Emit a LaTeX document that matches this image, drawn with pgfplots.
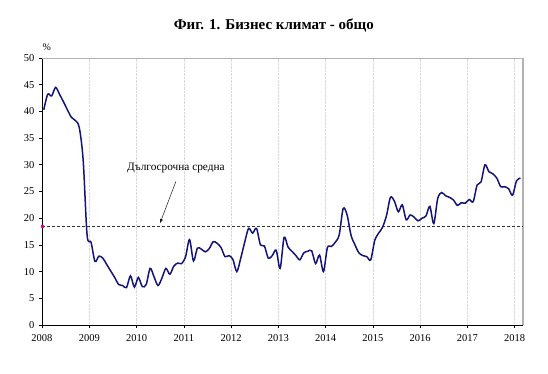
\documentclass[border=0pt]{standalone}
\usepackage{pgfplots}
\pgfplotsset{compat=1.18}
\usepackage{fontspec}
\setmainfont{Liberation Serif}
\definecolor{navyline}{RGB}{20,20,120}
\begin{document}
\begin{tikzpicture}
\begin{axis}[
  scale only axis,
  width=481pt, height=267pt,
  xmin=0, xmax=122.1, ymin=0, ymax=50,
  axis lines=left,
  axis line style={-, black, line width=0.8pt},
  xtick={0,12,24,36,48,60,72,84,96,108,120},
  xticklabels={2008,2009,2010,2011,2012,2013,2014,2015,2016,2017,2018},
  ytick={0,5,10,15,20,25,30,35,40,45,50},
  tick align=outside,
  major tick length=3pt,
  tick style={black, line width=0.6pt},
  xmajorgrids,
  grid style={densely dotted, gray!30, line width=0.5pt},
  tick label style={font=\fontsize{10.5}{12}\selectfont},
  /pgf/number format/assume math mode=true,
  xticklabel style={yshift=-3pt},
  yticklabel style={xshift=-1pt},
  clip=false,
]
\draw[gray!60, line width=0.8pt] (rel axis cs:0,1) -- (rel axis cs:1,1);
\draw[gray!60, line width=1.8pt] (rel axis cs:1,1) -- (rel axis cs:1,0);
\addplot[densely dashed, gray!40!black, line width=0.5pt] coordinates {(0,18.5) (122.1,18.5)};
\addplot[only marks, mark=square*, mark size=1.1pt, magenta] coordinates {(0,18.5)};
\addplot[navyline, line width=1.5pt, smooth, tension=0.5] table[x expr=\thisrow{k}+0.45, y=v] {
k v
0 40.3
1 43.2
2 42.9
3 44.5
4 43.2
5 41.8
6 40.3
7 38.9
8 38.3
9 37.0
10 30.9
11 16.8
12 15.5
13 11.9
14 12.9
15 12.5
16 11.3
17 10.1
18 8.9
19 7.6
20 7.4
21 7.0
22 9.2
23 7.1
24 8.9
25 7.2
26 7.6
27 10.6
28 9.0
29 7.4
30 8.8
31 10.6
32 9.5
33 11.0
34 11.6
35 11.5
36 12.8
37 16.0
38 12.0
39 14.4
40 14.2
41 13.7
42 14.3
43 15.6
44 15.3
45 14.5
46 12.8
47 13.0
48 12.3
49 10.0
50 12.5
51 15.5
52 18.1
53 17.2
54 18.1
55 15.0
56 14.8
57 12.5
58 13.0
59 14.0
60 10.6
61 16.4
62 14.6
63 13.8
64 13.0
65 12.2
66 13.5
67 13.8
68 13.9
69 11.5
70 13.1
71 10.0
72 14.5
73 14.7
74 15.5
75 16.9
76 21.8
77 20.6
78 16.8
79 15.0
80 13.5
81 13.0
82 12.8
83 12.2
84 15.8
85 17.2
86 18.3
87 20.5
88 23.9
89 23.2
90 21.2
91 22.5
92 19.7
93 20.6
94 20.2
95 19.5
96 20.0
97 20.4
98 22.2
99 19.0
100 23.7
101 24.8
102 24.2
103 23.9
104 23.4
105 22.4
106 22.9
107 22.8
108 23.5
109 23.1
110 26.2
111 26.8
112 30.0
113 28.7
114 28.3
115 27.5
116 25.9
117 25.9
118 25.5
119 24.3
120 27.0
121 27.5
};
\node[font=\fontsize{11.3}{13}\selectfont] at (axis cs:34,29.4) {Дългосрочна средна};
\draw[-latex, gray!20!black, line width=0.5pt] (axis cs:34,26.9) -- (axis cs:29.95,19.05);
\node[font=\fontsize{10}{12}\selectfont] at (axis cs:1.2,52.1) {\%};
\node[font=\fontsize{15}{18}\selectfont\bfseries] at (rel axis cs:0.482,1.1236) {Фиг. 1. Бизнес климат - общо};
\end{axis}
\pgfresetboundingbox
\path (current axis.origin) ++(-42pt,-49pt) rectangle ++(548pt,374pt);
\end{tikzpicture}
\end{document}
